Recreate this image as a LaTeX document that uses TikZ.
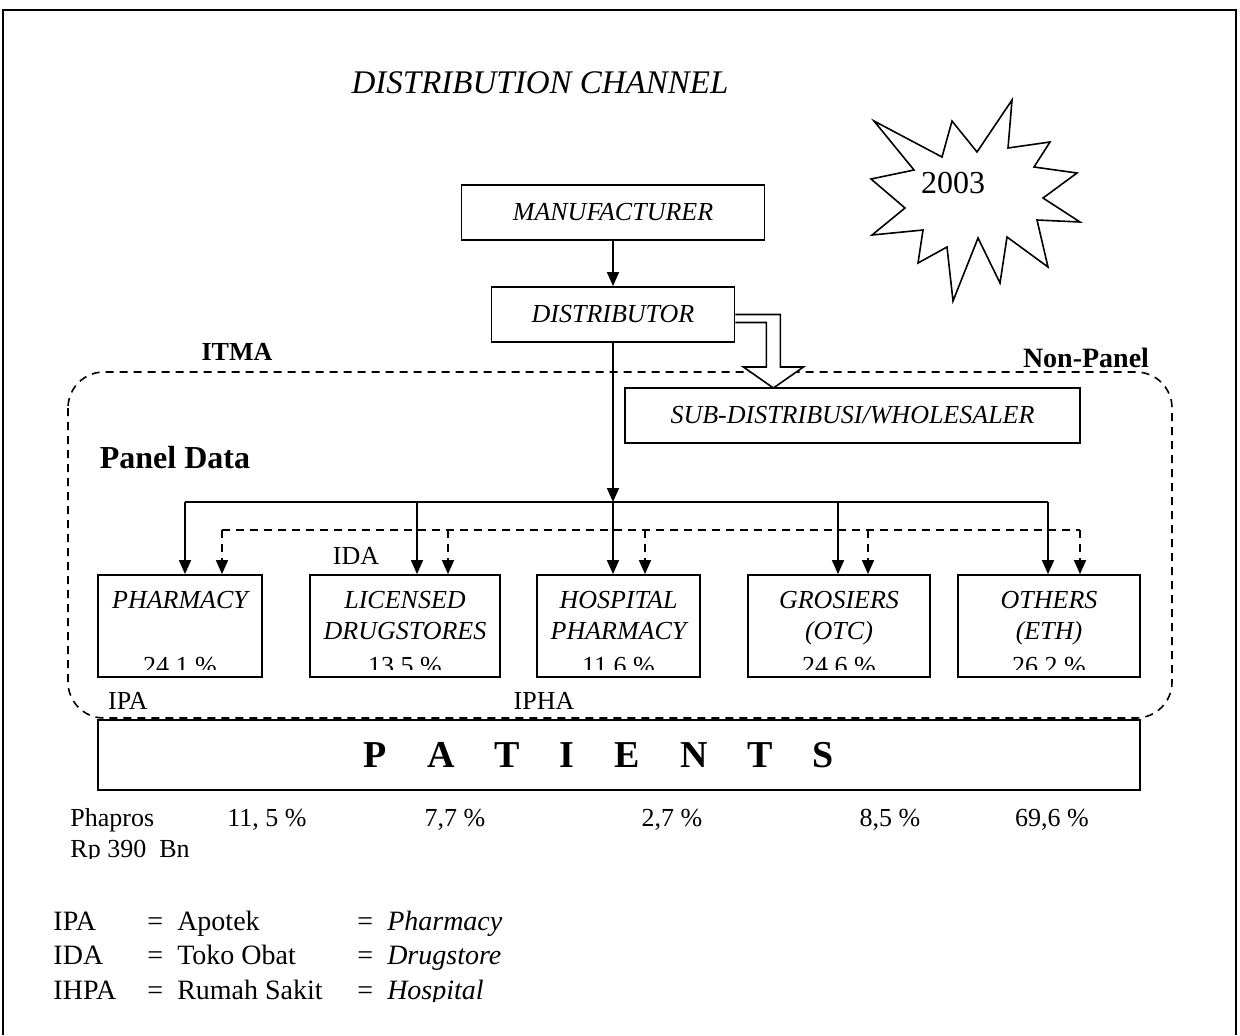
\documentclass[tikz,border=0pt]{standalone}
\usepackage{fontspec}
\setmainfont{Liberation Serif}
\usetikzlibrary{arrows.meta}
\newcommand{\stackit}[1]{\begin{tabular}[t]{@{}c@{}}#1\end{tabular}}

\tikzset{
box/.style={draw, line width=0.9pt, inner sep=0pt, font=\itshape},
outlet/.style={box, minimum height=51pt, text height=16.5pt, text depth=34.5pt},
arr/.style={-{Triangle[length=7pt,width=6pt]}, line width=0.8pt},
panelline/.style={dash pattern=on 4pt off 3pt, line width=0.8pt},
legend/.style={anchor=base west, font=\fontsize{14}{17}\selectfont},
}

\begin{document}
\fontsize{13}{15.6}\selectfont
\begin{tikzpicture}[x=0.5pt, y=-0.5pt, line width=0.8pt]
\useasboundingbox (0,0) rectangle (1240,1035);

\draw[line width=1pt] (3,1035) -- (3,10) -- (1236,10) -- (1236,1035);%frame

\node[font=\fontsize{16.5}{19}\selectfont\itshape] (title) at (540,83) {DISTRIBUTION CHANNEL};

%star
\draw (874,121) -- (942,157) -- (952,121) -- (977,152) -- (1012,100) -- (1008,148)
 -- (1050,142) -- (1034,167) -- (1077,173) -- (1043,198) -- (1080,222) -- (1037,220)
 -- (1048,267) -- (1007,237) -- (1000,283) -- (978,238) -- (953,301) -- (947,247)
 -- (918,263) -- (923,230) -- (872,235) -- (905,208) -- (871,179) -- (914,170) -- cycle;
\node[font=\fontsize{16}{19}\selectfont] (year) at (953,183) {2003};

\node[box, minimum width=151.5pt, minimum height=27.5pt] (manuf) at (613,212.5) {MANUFACTURER};
\node[box, minimum width=121.5pt, minimum height=27.5pt] (distr) at (613,314.5) {DISTRIBUTOR};
\node[box, minimum width=227.5pt, minimum height=27.5pt] (whole) at (852.5,415.5) {SUB-DISTRIBUSI/WHOLESALER};

\draw[panelline, rounded corners=18pt] (68,372) rectangle (1172,718);%panel area

%hollow arrow to wholesaler
\draw[fill=white] (distr.east) -- ++(45,0) -- ++(0,52.5) -- ++(23,0) -- ++(-30,21)
 -- ++(-30,-21) -- ++(23,0) -- ++(0,-44.5) -- ([yshift=-4pt]distr.east);

\node[font=\bfseries] (itma) at (237,352) {ITMA};
\node[font=\fontsize{14}{17}\selectfont\bfseries] (nonpanel) at (1086,358) {Non-Panel};
\node[font=\fontsize{16}{19}\selectfont\bfseries] (panel) at (175,458) {Panel Data};

\node[outlet, minimum width=82pt] (pharm) at (180,626) {\stackit{PHARMACY}};
\node[outlet, minimum width=95pt] (drug) at (405,626) {\stackit{LICENSED\\DRUGSTORES}};
\node[outlet, minimum width=81.5pt] (hosp) at (618.5,626) {\stackit{HOSPITAL\\PHARMACY}};
\node[outlet, minimum width=91pt] (gros) at (839,626) {\stackit{GROSIERS\\(OTC)}};
\node[outlet, minimum width=91pt] (oth) at (1049,626) {\stackit{OTHERS\\(ETH)}};

\foreach \n/\p in {pharm/{24,1 \%}, drug/{13,5 \%}, hosp/{11,6 \%}, gros/{24,6 \%}, oth/{26,2 \%}}{
\begin{scope}
\clip ([yshift=4pt]\n.south west) rectangle (\n.north east);
\node[anchor=base] (p\n) at ([yshift=1.5pt]\n.south) {\p};
\end{scope}
}

\node (ida) at (356,556) {IDA};
\node (ipa) at (128,701) {IPA};
\node (ipha) at (544,701) {IPHA};

\draw[arr] (manuf) -- (distr);
\coordinate (hub) at (613,502);
\draw[arr] (distr) -- (hub);
\foreach \n/\xs/\xd in {pharm/185/222, drug/417/448, hosp/613/645, gros/838/868, oth/1048/1080}{
\coordinate (s\n) at (\xs,502);
\coordinate (d\n) at (\xd,530);
}
\draw (spharm) -- (soth);
\draw[panelline] (dpharm) -- (doth);
\foreach \n in {pharm,drug,hosp,gros,oth}{
\draw[arr] (s\n) -- (s\n |- \n.north);
\draw[arr, panelline] (d\n) -- (d\n |- \n.north);
}

\node[draw, line width=1pt, minimum width=521pt, minimum height=35pt,
 font=\fontsize{19}{22}\selectfont\bfseries] (pat) at (619,755)
 {\spaceskip=20pt P A T I E N T S\hspace*{20pt}};

\node[anchor=base west] (phapros) at (61,826) {Phapros};
\node[anchor=base] (v1) at (267,826) {11, 5 \%};
\node[anchor=base] (v2) at (455,826) {7,7 \%};
\node[anchor=base] (v3) at (672,826) {2,7 \%};
\node[anchor=base] (v4) at (890,826) {8,5 \%};
\node[anchor=base] (v5) at (1052,826) {69,6 \%};
\begin{scope}
\clip (0,0) rectangle (1240,858);
\node[anchor=base west] (rp) at (61,857) {Rp 390 \ Bn};
\end{scope}

%legend
\node[legend] (l1) at (44,930) {IPA};
\node[legend] (l1a) at (138,930) {=\enspace Apotek};
\node[legend] (l1b) at (348,930) {=\enspace\textit{Pharmacy}};
\node[legend] (l2) at (44,964) {IDA};
\node[legend] (l2a) at (138,964) {=\enspace Toko Obat};
\node[legend] (l2b) at (348,964) {=\enspace\textit{Drugstore}};
\begin{scope}
\clip (0,0) rectangle (1240,1001);
\node[legend] (l3) at (44,999) {IHPA};
\node[legend] (l3a) at (138,999) {=\enspace Rumah Sakit};
\node[legend] (l3b) at (348,999) {=\enspace\textit{Hospital}};
\end{scope}

\end{tikzpicture}
\end{document}
